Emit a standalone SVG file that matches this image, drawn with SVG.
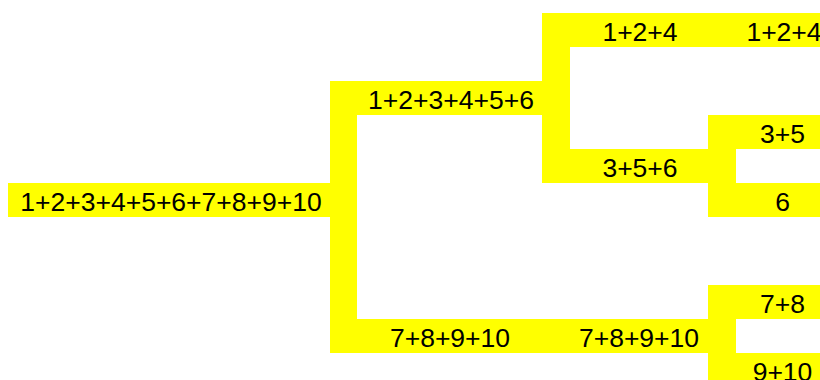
<svg xmlns="http://www.w3.org/2000/svg" width="820" height="380" viewBox="0 0 820 380">
  <style>
    .box { fill: #ffff00; }
    .bar { fill: #ffff00; }
    .lbl { font-family: "Liberation Sans", Arial, sans-serif; font-size: 26.5px; fill: #000000; text-anchor: middle; }
  </style>
  <rect x="0" y="0" width="820" height="380" fill="#ffffff"/>
  <g id="connectors" shape-rendering="crispEdges">
    <path class="bar" d="M330,81 H368 V115 H357 V319 H368 V353 H330 Z"/>
    <path class="bar" d="M542,13 H570 V47 H570 V149 H570 V183 H542 Z"/>
    <rect class="bar" x="708" y="13" width="28" height="34"/>
    <rect class="bar" x="708" y="115" width="28" height="102"/>
    <rect class="bar" x="542" y="319" width="28" height="34"/>
    <rect class="bar" x="708" y="285" width="28" height="102"/>
  </g>
  <g id="node-root">
    <rect class="box" x="8" y="183" width="322" height="34" shape-rendering="crispEdges"/>
    <text class="lbl" x="171" y="210.5">1+2+3+4+5+6+7+8+9+10</text>
  </g>
  <g id="node-1-6">
    <rect class="box" x="368" y="81" width="174" height="34" shape-rendering="crispEdges"/>
    <text class="lbl" x="451" y="108.5">1+2+3+4+5+6</text>
  </g>
  <g id="node-7-10">
    <rect class="box" x="368" y="319" width="174" height="34" shape-rendering="crispEdges"/>
    <text class="lbl" x="450" y="346.5">7+8+9+10</text>
  </g>
  <g id="node-124">
    <rect class="box" x="570" y="13" width="138" height="34" shape-rendering="crispEdges"/>
    <text class="lbl" x="640" y="40.5">1+2+4</text>
  </g>
  <g id="node-356">
    <rect class="box" x="570" y="149" width="138" height="34" shape-rendering="crispEdges"/>
    <text class="lbl" x="640" y="176.5">3+5+6</text>
  </g>
  <g id="node-7-10b">
    <rect class="box" x="570" y="319" width="138" height="34" shape-rendering="crispEdges"/>
    <text class="lbl" x="639" y="346.5">7+8+9+10</text>
  </g>
  <g id="node-124b">
    <rect class="box" x="736" y="13" width="84" height="34" shape-rendering="crispEdges"/>
    <text class="lbl" x="784" y="40.5">1+2+4</text>
  </g>
  <g id="node-35">
    <rect class="box" x="736" y="115" width="84" height="34" shape-rendering="crispEdges"/>
    <text class="lbl" x="782.5" y="142.5">3+5</text>
  </g>
  <g id="node-6">
    <rect class="box" x="736" y="183" width="84" height="34" shape-rendering="crispEdges"/>
    <text class="lbl" x="782.5" y="210.5">6</text>
  </g>
  <g id="node-78">
    <rect class="box" x="736" y="285" width="84" height="34" shape-rendering="crispEdges"/>
    <text class="lbl" x="782.5" y="312.5">7+8</text>
  </g>
  <g id="node-910">
    <rect class="box" x="736" y="353" width="84" height="34" shape-rendering="crispEdges"/>
    <text class="lbl" x="782.5" y="380.5">9+10</text>
  </g>
</svg>
